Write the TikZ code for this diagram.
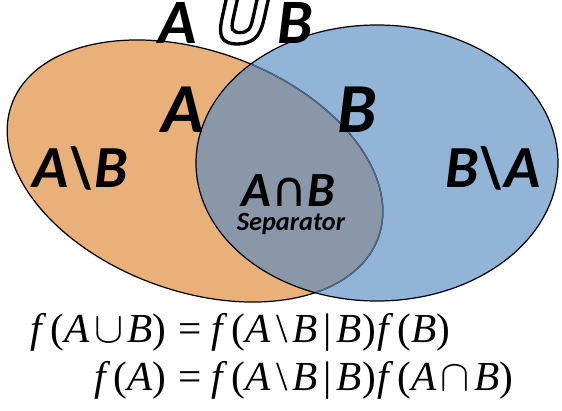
\documentclass[tikz,border=0pt]{standalone}
\usepackage{fontspec}
\setmainfont{Liberation Serif}
\newfontfamily\labelfont{Carlito}
\newfontfamily\symfont{DejaVu Sans}
\newfontfamily\cupfont[FakeSlant=0.22]{DejaVu Sans}
\definecolor{setaorange}{RGB}{233,176,122}
\definecolor{setbblue}{RGB}{146,180,214}
\definecolor{setboth}{RGB}{138,151,168}
\definecolor{setedge}{RGB}{78,106,138}
\newcommand{\hollowcup}{{\cupfont\fontsize{47}{50}\selectfont\color{white}%
  \special{pdf:literal direct 2 Tr 0 G 1.9 w}∪\special{pdf:literal direct 0 Tr}}}
\newcommand{\fnf}{\textit{f}\kern2pt}

\begin{document}
\begin{tikzpicture}[x=0.02cm, y=0.02cm,
    setlabel/.style={anchor=base, inner sep=0pt, font=\labelfont\bfseries\itshape},
    formula/.style={anchor=base, inner sep=0pt, font=\fontsize{23.5}{26}\selectfont},
    rotA/.style={rotate around={-20:(195,239)}}]
  \useasboundingbox (0,0) rectangle (562,410);

  % the two sets
  \fill[setaorange, rotA] (195,239) ellipse [x radius=195, y radius=120];
  \fill[setbblue] (377,247) ellipse [x radius=181, y radius=138];
  \begin{scope}
    \clip[rotA] (195,239) ellipse [x radius=195, y radius=120];
    \fill[setboth] (377,247) ellipse [x radius=181, y radius=138];
  \end{scope}
  \draw[line width=0.7pt, rotA] (195,239) ellipse [x radius=195, y radius=120];
  \begin{scope}
    \clip (377,247) ellipse [x radius=181, y radius=138];
    \draw[setedge, line width=0.8pt, rotA] (195,239) ellipse [x radius=195, y radius=120];
  \end{scope}
  \draw[line width=0.7pt] (377,247) ellipse [x radius=181, y radius=138];

  % labels
  \node[setlabel, font=\labelfont\bfseries\itshape\fontsize{36}{40}\selectfont] (union) at (236,366) {A\kern4pt\hollowcup\kern4pt B};
  \node[setlabel, font=\labelfont\bfseries\itshape\fontsize{40}{44}\selectfont] (seta) at (183,277) {A};
  \node[setlabel, font=\labelfont\bfseries\itshape\fontsize{40}{44}\selectfont] (setb) at (357,277) {B};
  \node[setlabel, font=\labelfont\bfseries\itshape\fontsize{34}{38}\selectfont] (aminusb) at (80,223) {A\textbackslash B};
  \node[setlabel, font=\labelfont\bfseries\itshape\fontsize{34}{38}\selectfont] (bminusa) at (493,223) {B\textbackslash A};
  \node[setlabel, font=\labelfont\bfseries\itshape\fontsize{28}{32}\selectfont] (inter) at (288,204) {A{\symfont\mdseries\upshape ∩}B};
  \node[setlabel, font=\labelfont\bfseries\itshape\fontsize{15}{18}\selectfont] (sep) at (291,180) {Separator};

  % factorisation
  \node[formula, anchor=base east] (lhsone) at (167,68) {\fnf(\textit{A}\kern2.5pt$\cup$\kern2.5pt\textit{B})};
  \node[formula, anchor=base west] (rhsone) at (178,68) {= \fnf(\textit{A}\kern3pt\textbackslash\kern3pt\textit{B}\kern3pt|\kern3pt\textit{B})\kern1pt\fnf(\textit{B})};
  \node[formula, anchor=base east] (lhstwo) at (167,20) {\fnf(\textit{A})};
  \node[formula, anchor=base west] (rhstwo) at (178,20) {= \fnf(\textit{A}\kern3pt\textbackslash\kern3pt\textit{B}\kern3pt|\kern3pt\textit{B})\kern1pt\fnf(\textit{A}\kern2.5pt$\cap$\kern2.5pt\textit{B})};
\end{tikzpicture}
\end{document}
